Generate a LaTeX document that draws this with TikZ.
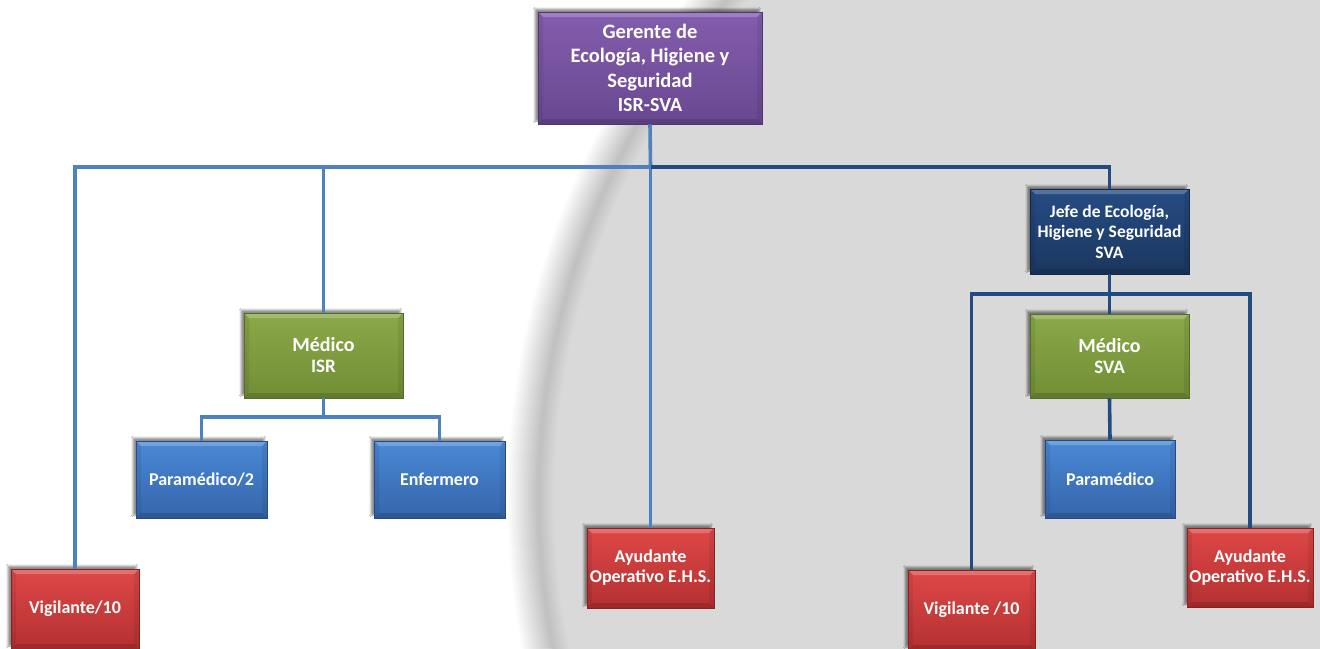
\documentclass[tikz,border=0pt]{standalone}
\usepackage{fontspec}
\setmainfont{Carlito}
\usetikzlibrary{shadows,shadows.blur}
\definecolor{bggrey}{HTML}{D9D9D9}
\definecolor{purT}{HTML}{845DAE}
\definecolor{purB}{HTML}{684890}
\definecolor{purD}{HTML}{4E3670}
\definecolor{navT}{HTML}{264C84}
\definecolor{navB}{HTML}{1B375F}
\definecolor{navD}{HTML}{132846}
\definecolor{grnT}{HTML}{8AA947}
\definecolor{grnB}{HTML}{718E36}
\definecolor{grnD}{HTML}{556B28}
\definecolor{bluT}{HTML}{4A89D6}
\definecolor{bluB}{HTML}{3565AB}
\definecolor{bluD}{HTML}{264B80}
\definecolor{redT}{HTML}{DE4848}
\definecolor{redB}{HTML}{B43030}
\definecolor{redD}{HTML}{862222}
\definecolor{lineL}{HTML}{4F81BD}
\definecolor{lineD}{HTML}{234B80}
\begin{document}
\begin{tikzpicture}[x=1pt,y=-1pt,
  ebox/.style={rectangle, text=white, align=center, inner sep=0pt,
    font=\bfseries\fontsize{18}{20}\selectfont, line width=0.6pt,
    blur shadow={shadow xshift=-3pt, shadow yshift=3pt, shadow blur steps=6, shadow opacity=45},
    path picture={
      \fill[white,opacity=.22] (path picture bounding box.north west) -- (path picture bounding box.north east)
        -- ([xshift=-5pt,yshift=-5pt]path picture bounding box.north east) -- ([xshift=5pt,yshift=-5pt]path picture bounding box.north west) -- cycle;
      \fill[black,opacity=.14] (path picture bounding box.south west) -- (path picture bounding box.south east)
        -- ([xshift=-5pt,yshift=5pt]path picture bounding box.south east) -- ([xshift=5pt,yshift=5pt]path picture bounding box.south west) -- cycle;
      \fill[black,opacity=.07] (path picture bounding box.north west) -- ([xshift=5pt,yshift=-5pt]path picture bounding box.north west)
        -- ([xshift=5pt,yshift=5pt]path picture bounding box.south west) -- (path picture bounding box.south west) -- cycle;
      \fill[black,opacity=.07] (path picture bounding box.north east) -- ([xshift=-5pt,yshift=-5pt]path picture bounding box.north east)
        -- ([xshift=-5pt,yshift=5pt]path picture bounding box.south east) -- (path picture bounding box.south east) -- cycle;
    }},
  purbox/.style={ebox, top color=purT, bottom color=purB, draw=purD},
  navbox/.style={ebox, top color=navT, bottom color=navB, draw=navD},
  grnbox/.style={ebox, top color=grnT, bottom color=grnB, draw=grnD},
  blubox/.style={ebox, top color=bluT, bottom color=bluB, draw=bluD},
  redbox/.style={ebox, top color=redT, bottom color=redB, draw=redD},
  lline/.style={draw=lineL, line width=3.6pt},
  dline/.style={draw=lineD, line width=3.6pt}
]
\useasboundingbox (0,0) rectangle (1320,648);
\fill[white] (0,0) rectangle (1320,648);
% background disc with soft shadow
\begin{scope}
  \clip (0,0) rectangle (1320,648);
  \coordinate (cc) at (1294,499);
  \foreach \i in {1,...,15}
    \draw[black,opacity=0.014,line width=\i*4 pt] (cc) circle[radius=756pt];
  \fill[bggrey] (cc) circle[radius=756pt];
  \clip (cc) circle[radius=756pt];
  \foreach \i in {1,...,8}
    \draw[black,opacity=0.012,line width=\i*4 pt] (cc) circle[radius=756pt];
\end{scope}

% nodes
\node[purbox, minimum width=224pt, minimum height=112pt, font=\bfseries\fontsize{20.5}{24.5}\selectfont] (ger) at (650,68)
  {Gerente de\\Ecología, Higiene y\\Seguridad\\{\fontsize{20}{24.5}\selectfont ISR-SVA}};
\node[navbox, minimum width=159pt, minimum height=85pt, font=\bfseries\fontsize{17.5}{20.5}\selectfont] (jefe) at (1109.5,231.5)
  {Jefe de Ecología,\\Higiene y Seguridad\\SVA};
\node[grnbox, minimum width=159pt, minimum height=85pt, font=\bfseries\fontsize{19}{21}\selectfont] (med1) at (323.5,355.5)
  {{\fontsize{20}{21}\selectfont Médico}\\ISR};
\node[grnbox, minimum width=159pt, minimum height=84pt, font=\bfseries\fontsize{19}{21}\selectfont] (msva) at (1109.5,356)
  {{\fontsize{20}{21}\selectfont Médico}\\SVA};
\node[blubox, minimum width=131pt, minimum height=77pt] (par1) at (201.5,479.5) {Paramédico/2};
\node[blubox, minimum width=131pt, minimum height=77pt] (enf) at (439.5,479.5) {Enfermero};
\node[blubox, minimum width=130pt, minimum height=78pt] (par2) at (1110,479) {Paramédico};
\node[redbox, minimum width=128pt, minimum height=80pt] (vig1) at (75,609) {Vigilante/10};
\node[redbox, minimum width=127pt, minimum height=80pt] (ay1) at (650.5,568) {Ayudante\\Operativo E.H.S.};
\node[redbox, minimum width=127pt, minimum height=80pt] (vig2) at (971.5,610) {Vigilante /10};
\node[redbox, minimum width=126pt, minimum height=79pt] (ay2) at (1250,567.5) {Ayudante\\Operativo E.H.S.};

% connectors
\coordinate (b1) at (650.5,167);
\coordinate (b2) at (1109.5,294);
\coordinate (b3) at (323.5,417);
\draw[lline] (ger.south) -- (b1);
\draw[lline] (vig1.north) |- (b1);
\draw[lline] (med1.north) -- (med1.north |- b1);
\draw[lline] (b1) -- (ay1.north);
\draw[dline] (b1) -| (jefe.north);
\draw[dline] (jefe.south) -- (msva.north);
\draw[dline] (vig2.north) |- (b2) -| (ay2.north);
\draw[dline] (msva.south) -- (par2.north);
\draw[lline] (med1.south) -- (b3);
\draw[lline] (par1.north) |- (b3) -| (enf.north);
\end{tikzpicture}
\end{document}
